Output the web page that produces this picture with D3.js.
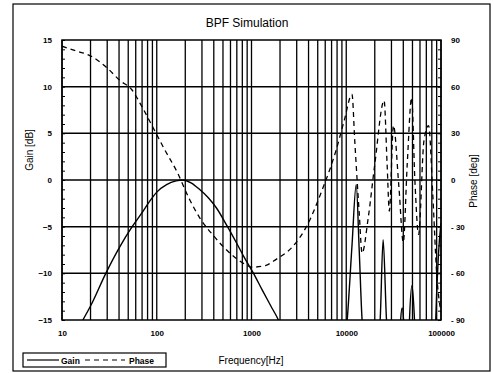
<!DOCTYPE html>
<html><head><meta charset="utf-8">
<script src="https://cdn.jsdelivr.net/npm/d3@7/dist/d3.min.js"></script>
<style>
body{margin:0;background:#fff;}
svg{display:block;font-family:"Liberation Sans",Arial,sans-serif;}
</style></head>
<body>
<svg id="c" width="494" height="373"></svg>
<script>
const title = "BPF Simulation";
const xTicks = [10, 100, 1000, 10000, 100000];
const gainTicks = [15, 10, 5, 0, -5, -10, -15];
const phaseTicks = [90, 60, 30, 0, -30, -60, -90];

const gainFreq = [16.6,20,29,40,55,70,84,100,127,160,188,230,282,350,427,558,700,850,1050,1300,1600,1923,2300,
  9800,10230,11500,12740,13700,14700,15500,
  22000,22800,24500,26600,27500,
  37000,37500,38900,40300,41000,
  46000,46500,49500,52500,53500,
  87000,88000,94000,100000];
const gainDb = [-15,-13.5,-10,-7.3,-5,-3.5,-2.3,-1.3,-0.5,-0.1,0,-0.3,-1,-1.9,-3,-5,-6.8,-8.4,-10,-11.8,-13.5,-15,-17,
  -17,-15,-7,-0.5,-7.5,-15,-17,
  -17,-15,-6.4,-15,-17,
  -17,-15,-13.7,-15,-17,
  -17,-15,-11.3,-15,-17,
  -17,-15,-8,-4.6];

const phaseFreq = [10,14,19.7,30,40.8,54.6,70,90.8,120,166,220,282,400,546,750,1025,1400,1820,2700,3800,5600,7800,9500,11500,12300,13700,14700,17000,20000,25100,27000,28500,31500,36000,40000,44000,49000,53000,58000,66000,74000,82000,90000,100000];
const phaseDeg = [86,83,80,72,64,58,47,34,20,4.5,-12,-24,-36,-45,-52,-56,-55,-51,-43,-30,-6,19,38,55,25,-21,-47,-25,10,51,10,-20,35,-5,-40,10,53,0,-35,25,35,-10,-60,-85];

const svg = d3.select("#c");
const L = 62, R = 441, T = 40, B = 320;
const x = d3.scaleLog().domain([10, 100000]).range([L, R]);
const y = d3.scaleLinear().domain([-15, 15]).range([B, T]);
const yp = d3.scaleLinear().domain([-90, 90]).range([B, T]);

// outer frame
svg.append("rect").attr("x", 13).attr("y", 4).attr("width", 477).attr("height", 367)
  .attr("fill", "none").attr("stroke", "#000").attr("stroke-width", 1.2);

svg.append("text").attr("x", 247).attr("y", 27).attr("text-anchor", "middle")
  .attr("font-size", 12).text(title);

// grid
const minor = [];
for (let d = 10; d < 100000; d *= 10) for (let k = 1; k <= 9; k++) minor.push(d * k);
minor.push(100000);
svg.append("g").selectAll("line").data(minor).join("line")
  .attr("x1", d => x(d)).attr("x2", d => x(d)).attr("y1", T).attr("y2", B)
  .attr("stroke", "#000").attr("stroke-width", 1.3);
svg.append("g").selectAll("line").data([10, 5, 0, -5, -10]).join("line")
  .attr("x1", L).attr("x2", R).attr("y1", d => y(d)).attr("y2", d => y(d))
  .attr("stroke", "#000").attr("stroke-width", 1.5);
svg.append("rect").attr("x", L).attr("y", T).attr("width", R - L).attr("height", B - T)
  .attr("fill", "none").attr("stroke", "#000").attr("stroke-width", 1.5);

// minor ticks inside
svg.append("g").attr("transform", `translate(${L},0)`)
  .call(d3.axisRight(y).tickValues(d3.range(-15, 16, 1)).tickSize(3).tickFormat(""))
  .call(g => g.select(".domain").remove());
svg.append("g").attr("transform", `translate(${R},0)`)
  .call(d3.axisLeft(yp).tickValues(d3.range(-90, 91, 6)).tickSize(3).tickFormat(""))
  .call(g => g.select(".domain").remove());

// tick labels
const ax = svg.append("g").attr("transform", `translate(${L - 10},0)`)
  .call(d3.axisLeft(y).tickValues(gainTicks).tickSize(0).tickPadding(0));
ax.select(".domain").remove();
ax.selectAll("text").attr("font-size", 8).attr("font-weight", "bold").attr("font-family", "Liberation Sans, Arial, sans-serif");
const ap = svg.append("g").attr("transform", `translate(${R + 10},0)`)
  .call(d3.axisRight(yp).tickValues(phaseTicks).tickSize(0).tickPadding(0).tickFormat(d => d < 0 ? "- " + Math.abs(d) : d));
ap.select(".domain").remove();
ap.selectAll("text").attr("font-size", 8).attr("font-weight", "bold").attr("font-family", "Liberation Sans, Arial, sans-serif");
const axb = svg.append("g").attr("transform", `translate(0,${B + 10})`)
  .call(d3.axisBottom(x).tickValues(xTicks).tickSize(0).tickPadding(0).tickFormat(d3.format("d")));
axb.select(".domain").remove();
axb.selectAll("text").attr("font-size", 8).attr("font-weight", "bold").attr("dy", "0.71em").attr("font-family", "Liberation Sans, Arial, sans-serif");

// axis titles
svg.append("text").attr("transform", "translate(33,150) rotate(-90)").attr("text-anchor", "middle")
  .attr("font-size", 10).text("Gain [dB]");
svg.append("text").attr("transform", "translate(477,181) rotate(-90)").attr("text-anchor", "middle")
  .attr("font-size", 10).text("Phase [deg]");
svg.append("text").attr("x", 251).attr("y", 364).attr("text-anchor", "middle")
  .attr("font-size", 10).text("Frequency[Hz]");

// clip
svg.append("clipPath").attr("id", "pc").append("rect")
  .attr("x", L).attr("y", T).attr("width", R - L).attr("height", B - T);

const gLine = d3.line().curve(d3.curveMonotoneX).x((d, i) => x(gainFreq[i])).y((d, i) => y(gainDb[i]));
svg.append("path").attr("clip-path", "url(#pc)").attr("d", gLine(gainFreq))
  .attr("fill", "none").attr("stroke", "#000").attr("stroke-width", 1.4);
const pLine = d3.line().curve(d3.curveMonotoneX).x((d, i) => x(phaseFreq[i])).y((d, i) => yp(phaseDeg[i]));
svg.append("path").attr("clip-path", "url(#pc)").attr("d", pLine(phaseFreq))
  .attr("fill", "none").attr("stroke", "#000").attr("stroke-width", 1.3).attr("stroke-dasharray", "5,4");

// legend
const lg = svg.append("g");
lg.append("rect").attr("x", 23).attr("y", 353).attr("width", 143).attr("height", 14)
  .attr("fill", "#fff").attr("stroke", "#000").attr("stroke-width", 1.2);
lg.append("line").attr("x1", 27).attr("x2", 59).attr("y1", 360).attr("y2", 360).attr("stroke", "#000").attr("stroke-width", 1.2);
lg.append("text").attr("x", 61).attr("y", 363.5).attr("font-size", 8.5).attr("font-weight", "bold").text("Gain");
lg.append("line").attr("x1", 85).attr("x2", 125).attr("y1", 360).attr("y2", 360).attr("stroke", "#000").attr("stroke-width", 1.2).attr("stroke-dasharray", "5,4");
lg.append("text").attr("x", 129).attr("y", 363.5).attr("font-size", 8.5).attr("font-weight", "bold").text("Phase");
</script>
</body></html>
